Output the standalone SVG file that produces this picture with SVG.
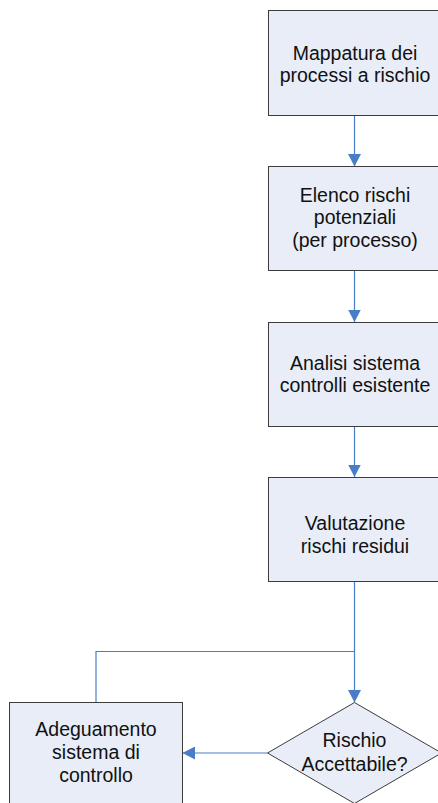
<svg xmlns="http://www.w3.org/2000/svg" width="438" height="803" viewBox="0 0 438 803">
<style>
.box{fill:#E8EDF7;stroke:#3c3c3c;stroke-width:1}
.t{font-family:"Liberation Sans",Arial,sans-serif;font-size:19.5px;fill:#111;text-anchor:middle}
.c{fill:none;stroke:#4A7DC8;stroke-width:1.2}
</style>
<defs>
<marker id="ah" markerWidth="13" markerHeight="13" refX="12.5" refY="6.5" orient="auto" markerUnits="userSpaceOnUse">
<path d="M0,0 L12.5,6.5 L0,13 Z" fill="#4A7DC8"/>
</marker>
</defs>
<rect width="438" height="803" fill="#fff"/>
<g id="connectors">
<line class="c" x1="354.5" y1="115.5" x2="354.5" y2="166.5" marker-end="url(#ah)"/>
<line class="c" x1="354.5" y1="270.5" x2="354.5" y2="322" marker-end="url(#ah)"/>
<line class="c" x1="354.5" y1="426" x2="354.5" y2="477" marker-end="url(#ah)"/>
<line class="c" x1="354.5" y1="582" x2="354.5" y2="702.5" marker-end="url(#ah)"/>
<polyline class="c" points="96,702.5 96,651.5 354.5,651.5"/>
<line class="c" x1="267.5" y1="753" x2="182.5" y2="753" marker-end="url(#ah)"/>
</g>
<g id="n1">
<rect class="box" x="268.5" y="10.5" width="174" height="105"/>
<text class="t" x="355" y="59.5">Mappatura dei</text>
<text class="t" x="355" y="82">processi a rischio</text>
</g>
<g id="n2">
<rect class="box" x="268.5" y="166.5" width="174" height="104"/>
<text class="t" x="355" y="201.5">Elenco rischi</text>
<text class="t" x="355" y="224.3">potenziali</text>
<text class="t" x="355" y="247">(per processo)</text>
</g>
<g id="n3">
<rect class="box" x="268.5" y="322.5" width="174" height="104"/>
<text class="t" x="355" y="369.5">Analisi sistema</text>
<text class="t" x="355" y="392">controlli esistente</text>
</g>
<g id="n4">
<rect class="box" x="268.5" y="477.5" width="174" height="104"/>
<text class="t" x="355" y="530">Valutazione</text>
<text class="t" x="355" y="552.7">rischi residui</text>
</g>
<g id="n5">
<polygon class="box" points="354.5,702.5 441.5,753 354.5,803.5 267.5,753"/>
<text class="t" x="354.5" y="747.3">Rischio</text>
<text class="t" x="354.5" y="771">Accettabile?</text>
</g>
<g id="n6">
<rect class="box" x="9.5" y="702.5" width="173" height="110"/>
<text class="t" x="96" y="735.7">Adeguamento</text>
<text class="t" x="96" y="759.3">sistema di</text>
<text class="t" x="96" y="782.3">controllo</text>
</g>
</svg>
